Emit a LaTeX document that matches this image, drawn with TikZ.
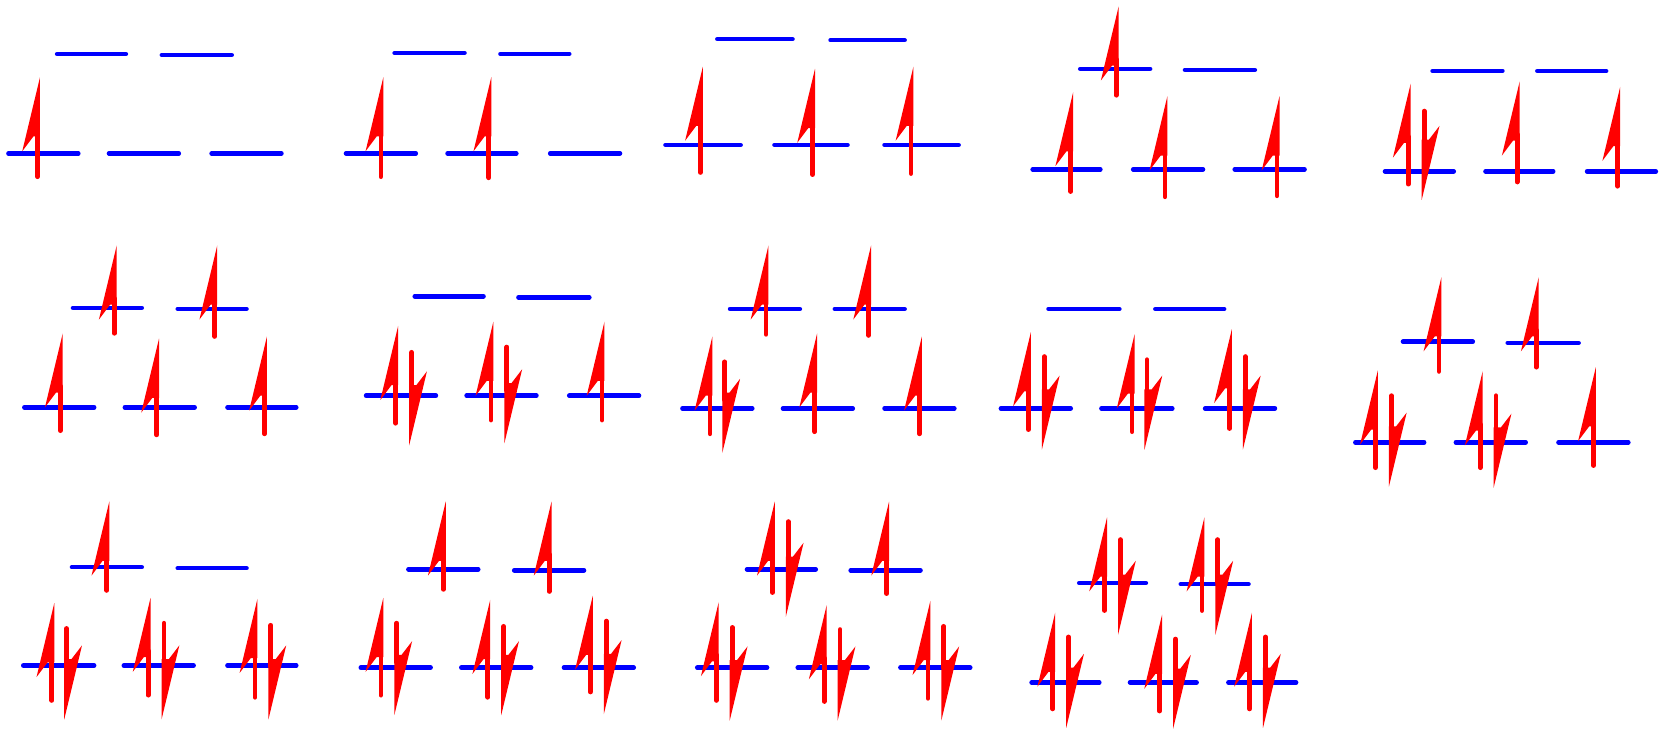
\documentclass[tikz,border=0pt]{standalone}
\tikzset{
  lvl/.style={draw=blue, line width=0.086cm, line cap=round},
  shaft/.style={draw=red, line width=0.09cm, line cap=round},
  barb/.style={fill=red}
}
\newcommand\orb[3]{\draw[lvl] (#1,#3) -- (#2,#3);}
\newcommand\elup[3]{%
  \fill[barb] ({#1+2.3},#2) -- ({#1-14.5},{#2+70}) -- ({#1-4},{#2+56}) -- ({#1+2.3},{#2+56}) -- cycle;
  \draw[shaft] (#1,#3) -- (#1,{#2+50});}
\newcommand\eldn[3]{%
  \fill[barb] ({#1-2.3},#3) -- ({#1+14.5},{#3-70}) -- ({#1+4.5},{#3-57}) -- ({#1-2.3},{#3-57}) -- cycle;
  \draw[shaft] (#1,#2) -- (#1,{#3-50});}
\begin{document}
\begin{tikzpicture}[x=0.02cm,y=-0.02cm]
\useasboundingbox (0,0) rectangle (1568,690);
% Panel 1
\orb{54}{119}{51} \orb{153}{219}{52}
\orb{8}{74}{145} \orb{103}{169}{145} \orb{200}{266}{145}
\elup{35.5}{73}{167}
% Panel 2
\orb{373}{439}{50} \orb{473}{538}{51}
\orb{327}{393}{145} \orb{423}{488}{145} \orb{520}{586}{145}
\elup{360}{73}{167} \elup{462}{73}{168}
% Panel 3
\orb{678}{749}{37} \orb{785}{855}{38}
\orb{629}{700}{137} \orb{732}{801}{137} \orb{836}{906}{137}
\elup{662}{63}{163} \elup{768}{65}{165} \elup{861}{63}{164}
% Panel 4
\orb{1021}{1087}{65} \orb{1120}{1186}{66}
\orb{976}{1040}{160} \orb{1071}{1137}{160} \orb{1167}{1233}{160}
\elup{1055}{6}{90} \elup{1012}{87}{181} \elup{1101}{91}{186} \elup{1207}{91}{185}
% Panel 5
\orb{1354}{1420}{67} \orb{1453}{1518}{67}
\orb{1309}{1374}{162} \orb{1404}{1468}{162} \orb{1500}{1565}{162}
\elup{1331}{79}{174} \eldn{1346}{105}{189} \elup{1434}{77}{172} \elup{1529}{82}{176}
% Panel 6
\orb{69}{134}{291} \orb{168}{233}{292}
\orb{23}{89}{385} \orb{118}{184}{385} \orb{215}{280}{385}
\elup{108}{232}{315} \elup{203}{232}{318} \elup{57}{315}{407} \elup{148}{320}{411} \elup{250}{318}{410}
% Panel 7
\orb{392}{457}{280} \orb{490}{557}{281}
\orb{346}{412}{374} \orb{441}{507}{374} \orb{538}{604}{374}
\elup{374}{308}{400} \eldn{389}{333}{421} \elup{464}{304}{397} \eldn{479}{328}{419} \elup{569}{304}{397}
% Panel 8
\orb{690}{756}{292} \orb{789}{855}{292}
\orb{645}{711}{386} \orb{740}{806}{386} \orb{836}{902}{386}
\elup{724}{232}{316} \elup{821}{232}{317} \elup{671}{318}{410} \eldn{685}{342}{428} \elup{770}{315}{408} \elup{869}{318}{410}
% Panel 9
\orb{991}{1058}{292} \orb{1092}{1157}{292}
\orb{946}{1012}{386} \orb{1041}{1108}{386} \orb{1139}{1205}{386}
\elup{972}{314}{406} \eldn{987}{337}{425} \elup{1070}{316}{408} \eldn{1084}{340}{425} \elup{1162}{311}{405} \eldn{1177}{337}{425}
% Panel 10
\orb{1326}{1392}{323} \orb{1425}{1492}{324}
\orb{1281}{1346}{418} \orb{1376}{1442}{418} \orb{1473}{1539}{418}
\elup{1360}{262}{351} \elup{1452}{262}{347} \elup{1300}{350}{442} \eldn{1315}{374}{460} \elup{1399}{351}{442} \eldn{1414}{374}{461} \elup{1506}{347}{440}
% Panel 11
\orb{68}{134}{536} \orb{168}{233}{537}
\orb{22}{89}{629} \orb{117}{183}{629} \orb{215}{280}{629}
\elup{101}{474}{558} \elup{49}{570}{662} \eldn{63}{594}{680} \elup{140}{565}{657} \eldn{155}{589}{680} \elup{241}{566}{659} \eldn{256}{591}{680}
% Panel 12
\orb{386}{452}{538} \orb{486}{552}{539}
\orb{341}{407}{631} \orb{436}{502}{631} \orb{533}{599}{631}
\elup{419}{474}{557} \elup{519}{474}{559} \elup{360}{565}{657} \eldn{375}{589}{676} \elup{461}{567}{659} \eldn{476}{592}{676} \elup{558}{563}{654} \eldn{573}{587}{675}
% Panel 13
\orb{706}{771}{538} \orb{804}{870}{539}
\orb{659}{725}{631} \orb{754}{820}{631} \orb{851}{917}{631}
\elup{730}{474}{560} \eldn{745}{493}{583} \elup{838}{474}{561}
\elup{677}{569}{662} \eldn{692}{593}{681} \elup{779}{572}{663} \eldn{794}{595}{681} \elup{877}{568}{660} \eldn{892}{592}{681}
% Panel 14
\orb{1020}{1083}{551} \orb{1116}{1180}{552}
\orb{975}{1039}{645} \orb{1068}{1131}{645} \orb{1161}{1225}{645}
\elup{1044}{489}{577} \eldn{1059}{510}{600} \elup{1136}{489}{577} \eldn{1151}{510}{600}
\elup{995}{579}{670} \eldn{1010}{602}{688} \elup{1096}{581}{672} \eldn{1111}{604}{689} \elup{1181}{579}{670} \eldn{1196}{602}{688}
\end{tikzpicture}
\end{document}
